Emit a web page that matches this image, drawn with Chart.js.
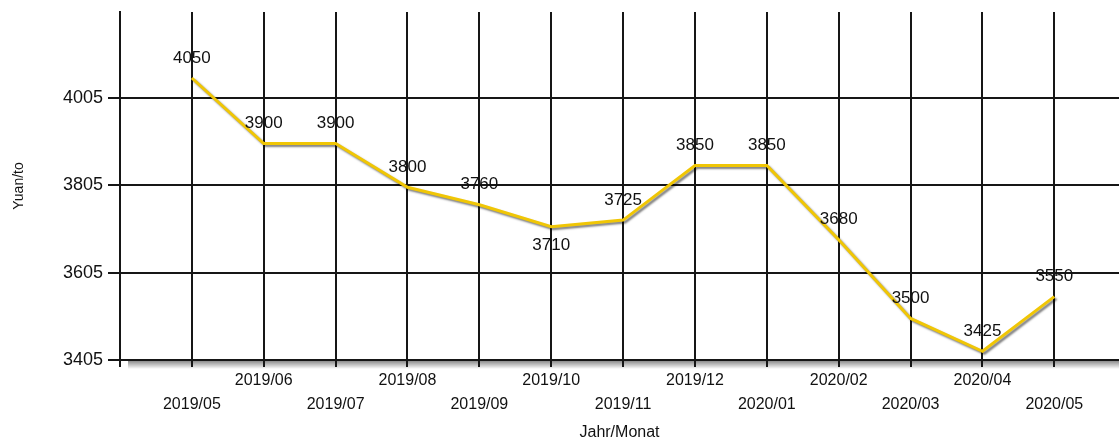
<!DOCTYPE html>
<html>
<head>
<meta charset="utf-8">
<script src="https://cdn.jsdelivr.net/npm/chart.js@4"></script>
<style>
  html, body { margin: 0; padding: 0; background: #fff; overflow: hidden; }
  #wrap { width: 1119px; height: 439px; }
</style>
</head>
<body>
<div id="wrap"><canvas id="priceChart"></canvas></div>
<script>
// values
const months = ['2019/05', '2019/06', '2019/07', '2019/08', '2019/09', '2019/10', '2019/11',
                '2019/12', '2020/01', '2020/02', '2020/03', '2020/04', '2020/05'];
const prices = [4050, 3900, 3900, 3800, 3760, 3710, 3725, 3850, 3850, 3680, 3500, 3425, 3550];
const yTicks = [3405, 3605, 3805, 4005];
// months whose value label sits under the line
const labelsBelow = ['2019/10'];

const FONT = '"Liberation Sans", Arial, sans-serif';
const GRID = '#161616';
const TEXT = '#111';

// gray shadow under the line
const lineShadow = {
  id: 'lineShadow',
  beforeDatasetDraw(chart) {
    const ctx = chart.ctx;
    ctx.save();
    ctx.shadowColor = 'rgba(0,0,0,0.5)';
    ctx.shadowOffsetX = 2;
    ctx.shadowOffsetY = 2;
    ctx.shadowBlur = 2;
  },
  afterDatasetDraw(chart) {
    chart.ctx.restore();
  }
};

// soft shadow under the x axis line
const axisShadow = {
  id: 'axisShadow',
  beforeDraw(chart) {
    const {ctx, chartArea} = chart;
    const g = ctx.createLinearGradient(0, chartArea.bottom, 0, chartArea.bottom + 9);
    g.addColorStop(0, 'rgba(0,0,0,0.5)');
    g.addColorStop(1, 'rgba(0,0,0,0)');
    ctx.save();
    ctx.fillStyle = g;
    ctx.fillRect(chartArea.left + 8, chartArea.bottom, chartArea.right - chartArea.left, 9);
    ctx.restore();
  }
};

// value labels on the points
const valueLabels = {
  id: 'valueLabels',
  afterDatasetsDraw(chart) {
    const ctx = chart.ctx;
    const meta = chart.getDatasetMeta(0);
    ctx.save();
    ctx.font = '17px ' + FONT;
    ctx.fillStyle = TEXT;
    ctx.textAlign = 'center';
    ctx.textBaseline = 'middle';
    meta.data.forEach((pt, i) => {
      const below = labelsBelow.includes(months[i]);
      ctx.fillText(String(prices[i]), pt.x, below ? pt.y + 19 : pt.y - 20);
    });
    ctx.restore();
  }
};

const points = prices.map((v, i) => ({x: i + 1, y: v}));

new Chart(document.getElementById('priceChart'), {
  type: 'line',
  data: {
    datasets: [{
      data: points,
      borderColor: '#F0C605',
      borderWidth: 3,
      pointRadius: 0,
      tension: 0,
      fill: false
    }]
  },
  options: {
    responsive: true,
    maintainAspectRatio: false,
    animation: false,
    layout: { padding: { top: 12 } },
    plugins: { legend: { display: false }, tooltip: { enabled: false } },
    scales: {
      x: {
        type: 'linear',
        min: 0,
        max: 13.9,
        afterBuildTicks(s) {
          s.ticks = months.map((m, i) => ({value: i + 1}));
          s.ticks.unshift({value: 0});
        },
        afterFit(s) {
          s.height = 79;
          s.paddingLeft = 0;
          s.paddingRight = 0;
        },
        ticks: {
          autoSkip: false,
          maxRotation: 0,
          padding: 2,
          color: TEXT,
          font: { family: FONT, size: 16, lineHeight: 1.5 },
          callback(v) {
            if (v < 1) return '';
            const m = months[v - 1];
            return v % 2 ? ['', m] : [m, ''];
          }
        },
        grid: { color: GRID, lineWidth: 2, tickLength: 7 },
        border: { color: GRID, width: 2 },
        title: {
          display: true,
          text: 'Jahr/Monat',
          color: TEXT,
          font: { family: FONT, size: 16 },
          padding: { top: 0, bottom: -3 }
        }
      },
      y: {
        min: 3405,
        max: 4201,
        afterBuildTicks(s) {
          s.ticks = yTicks.map(v => ({value: v}));
        },
        afterFit(s) {
          s.width = 120;
          s.paddingTop = 0;
          s.paddingBottom = 0;
        },
        ticks: {
          padding: 5,
          color: TEXT,
          font: { family: FONT, size: 18 },
          callback: v => String(v)
        },
        grid: { color: GRID, lineWidth: 2, tickLength: 12 },
        border: { color: GRID, width: 2 },
        title: {
          display: true,
          text: 'Yuan/to',
          color: TEXT,
          font: { family: FONT, size: 14 },
          padding: { top: 11, bottom: 0 }
        }
      }
    }
  },
  plugins: [axisShadow, lineShadow, valueLabels]
});
</script>
</body>
</html>
